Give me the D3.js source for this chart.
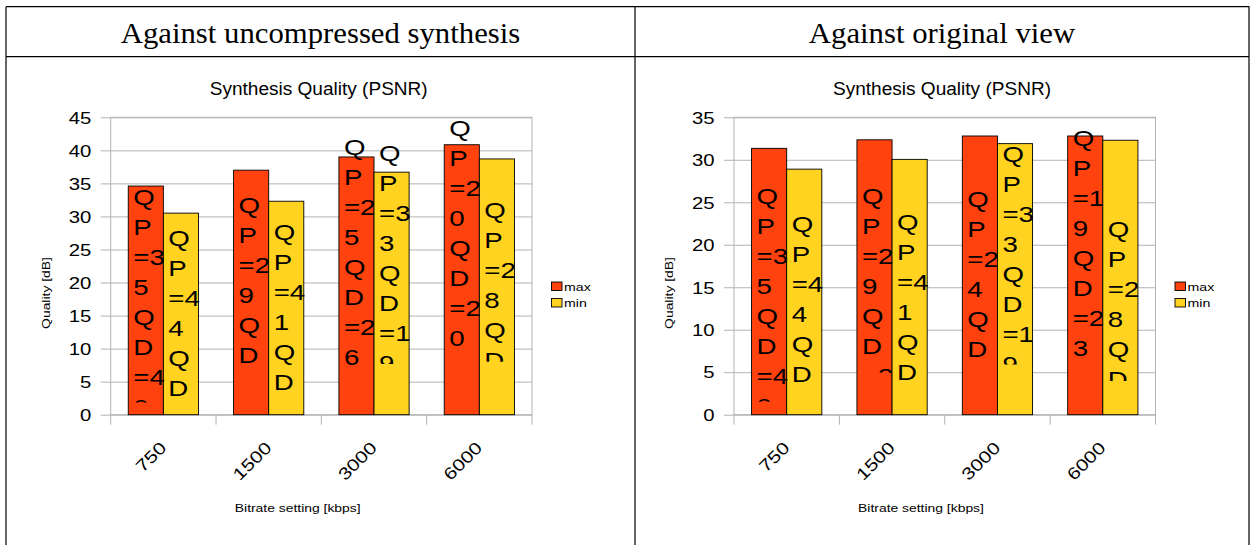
<!DOCTYPE html>
<html><head><meta charset="utf-8">
<script src="https://cdn.jsdelivr.net/npm/d3@7"></script>
<style>body{margin:0;background:#fff}svg{display:block}</style>
</head><body>
<svg id="c" width="1251" height="545"></svg>
<script>
// ---------- data ----------
const headers = ["Against uncompressed synthesis", "Against original view"];
const chartTitle = "Synthesis Quality (PSNR)";
const yTitle = "Quality [dB]";
const xTitle = "Bitrate setting [kbps]";
const categories = ["750", "1500", "3000", "6000"];
const seriesNames = ["max", "min"];
const seriesColors = ["#ff420e", "#ffd320"];

const leftTicks = [0, 5, 10, 15, 20, 25, 30, 35, 40, 45];
const leftMax = [34.6, 37.0, 39.0, 40.85];
const leftMin = [30.5, 32.3, 36.7, 38.7];
const leftMaxLabels = ["QP=35QD=40", "QP=29QD=3", "QP=25QD=26", "QP=20QD=20"];
const leftMinLabels = ["QP=44QD", "QP=41QD", "QP=33QD=19", "QP=28QD"];
const leftMaxLabelAt = [33.0, 31.73, 40.55, 43.33];   // dB of first label line
const leftMinLabelAt = [26.69, 27.69, 39.55, 30.97];
const leftMaxShown = [7.36, 6, 8, 8];                  // visible label lines
const leftMinShown = [6, 6, 7.52, 5.56];

const rightTicks = [0, 5, 10, 15, 20, 25, 30, 35];
const rightMax = [31.35, 32.35, 32.8, 32.8];
const rightMin = [28.9, 30.05, 31.9, 32.3];
const rightMaxLabels = ["QP=35QD=40", "QP=29QD=3", "QP=24QD", "QP=19QD=23"];
const rightMinLabels = ["QP=44QD", "QP=41QD", "QP=33QD=19", "QP=28QD"];
const rightMaxLabelAt = [25.75, 25.75, 25.36, 32.58];
const rightMinLabelAt = [22.43, 22.62, 30.63, 21.84];
const rightMaxShown = [7.36, 6.4, 6, 8];
const rightMinShown = [6, 6, 7.5, 5.56];

// ---------- drawing ----------
const SX = 1.23;               // horizontal glyph widening of the chart texts
const SANS = "'Liberation Sans', Arial, sans-serif";
const SERIF = "'Liberation Serif', 'Times New Roman', serif";
const svg = d3.select("#c");
const defs = svg.append("defs");

function txt(g, x, y, s, size, opt = {}) {
  const sx = opt.sx || SX;
  const t = g.append("text")
    .attr("transform", `translate(${x},${y}) rotate(${opt.rot || 0}) scale(${sx},1)`)
    .attr("font-family", opt.family || SANS)
    .attr("font-size", size)
    .attr("fill", "#000")
    .attr("text-anchor", opt.anchor || "start")
    .text(s);
  if (opt.dy) t.attr("dy", opt.dy);
  return t;
}

// table
svg.append("path")
  .attr("d", "M6,6.7H1249.5 M6,56.7H1249.5 M6,6.7V545 M635,6.7V545 M1249,6.7V545")
  .attr("stroke", "#000").attr("stroke-width", 1.2).attr("fill", "none");
txt(svg, 320.5, 42.5, headers[0], 29, {family: SERIF, anchor: "middle", sx: 1.06});
txt(svg, 942, 42.5, headers[1], 29, {family: SERIF, anchor: "middle", sx: 1.06});

const ctx = document.createElement("canvas").getContext("2d");
const LABEL_SIZE = 22.5, LINE_H = 30;
ctx.font = `${LABEL_SIZE}px 'Liberation Sans', Arial, sans-serif`;
function wrap(s, maxW) {
  const lines = [];
  let cur = "";
  for (const ch of s) {
    const test = cur + ch;
    if (cur && ctx.measureText(test).width * SX > maxW) { lines.push(cur); cur = ch; }
    else cur = test;
  }
  if (cur) lines.push(cur);
  return lines;
}

let clipId = 0;
function drawChart(cfg) {
  const g = svg.append("g");
  const yTop = 117.3, yBot = 414.7;
  const x = d3.scaleBand().domain(categories).range([cfg.x0, cfg.x1]).padding(0);
  const xs = d3.scaleBand().domain(seriesNames).range([0, x.bandwidth()])
    .paddingInner(0).paddingOuter(0.5);
  const y = d3.scaleLinear().domain([0, d3.max(cfg.ticks)]).range([yBot, yTop]);

  // title
  txt(g, cfg.x0 + 208, 94.5, chartTitle, 18.5, {anchor: "middle", sx: 1.03});

  // grid + y axis
  const ax = g.append("g").attr("transform", `translate(${cfg.x0},0)`)
    .call(d3.axisLeft(y).tickValues(cfg.ticks).tickSizeInner(-(cfg.x1 - cfg.x0))
      .tickSizeOuter(0).tickPadding(19.5));
  ax.select(".domain").remove();
  ax.selectAll(".tick line").attr("x1", -10).attr("stroke", "#b3b3b3");
  ax.selectAll(".tick text")
    .attr("x", 0).attr("dy", "0.35em")
    .attr("transform", `translate(-19.5,0) scale(${SX},1)`)
    .attr("font-family", SANS).attr("font-size", 16.5).attr("fill", "#000");

  // plot frame and category ticks
  g.append("rect").attr("x", cfg.x0).attr("y", yTop)
    .attr("width", cfg.x1 - cfg.x0).attr("height", yBot - yTop)
    .attr("fill", "none").attr("stroke", "#b3b3b3");
  const edges = categories.map(c => x(c)).concat([cfg.x1]);
  g.selectAll(".ctick").data(edges).join("line")
    .attr("x1", d => d).attr("x2", d => d)
    .attr("y1", yBot).attr("y2", yBot + 10)
    .attr("stroke", "#b3b3b3");

  // bars
  const series = [cfg.max, cfg.min];
  series.forEach((vals, si) => {
    g.selectAll(".bar" + si).data(vals).join("rect")
      .attr("x", (d, i) => x(categories[i]) + xs(seriesNames[si]))
      .attr("y", d => y(d))
      .attr("width", xs.bandwidth())
      .attr("height", d => y(0) - y(d))
      .attr("fill", seriesColors[si])
      .attr("stroke", "#000").attr("stroke-width", 0.9);
  });

  // data labels
  const labelSets = [
    {txt: cfg.maxLabels, at: cfg.maxAt, shown: cfg.maxShown},
    {txt: cfg.minLabels, at: cfg.minAt, shown: cfg.minShown}
  ];
  labelSets.forEach((ls, si) => {
    ls.txt.forEach((s, i) => {
      const bx = x(categories[i]) + xs(seriesNames[si]);
      const lines = wrap(s, xs.bandwidth() - 1);
      const c = y(ls.at[i]);
      const lg = g.append("g");
      if (ls.shown[i] < lines.length) {
        const id = "clip" + (clipId++);
        defs.append("clipPath").attr("id", id).append("rect")
          .attr("x", bx - 10).attr("y", 0)
          .attr("width", xs.bandwidth() + 40)
          .attr("height", c - LINE_H / 2 + ls.shown[i] * LINE_H);
        lg.attr("clip-path", `url(#${id})`);
      }
      lines.forEach((ln, k) => {
        txt(lg, bx + 5, c + 8 + k * LINE_H, ln, LABEL_SIZE);
      });
    });
  });

  // x tick labels
  categories.forEach(cat => {
    txt(g, x(cat) + x.bandwidth() / 2 + 4, yBot + 34, cat, 17, {anchor: "end", rot: -45});
  });

  // axis titles
  txt(g, cfg.x0 + 187, 511.5, xTitle, 11.3, {anchor: "middle"});
  txt(g, cfg.x0 - 65, 293, yTitle, 11.3, {anchor: "middle", rot: -90, dy: "0.35em"});

  // legend
  seriesNames.forEach((nm, si) => {
    const ly = 282 + si * 16.5;
    g.append("rect").attr("x", cfg.x1 + 19.5).attr("y", ly)
      .attr("width", 10.5).attr("height", 8.5)
      .attr("fill", seriesColors[si]).attr("stroke", "#000").attr("stroke-width", 0.9);
    txt(g, cfg.x1 + 32, ly + 8.7, nm, 11.5);
  });
}

drawChart({x0: 110.7, x1: 532, ticks: leftTicks, max: leftMax, min: leftMin,
  maxLabels: leftMaxLabels, minLabels: leftMinLabels,
  maxAt: leftMaxLabelAt, minAt: leftMinLabelAt,
  maxShown: leftMaxShown, minShown: leftMinShown});
drawChart({x0: 734, x1: 1155.5, ticks: rightTicks, max: rightMax, min: rightMin,
  maxLabels: rightMaxLabels, minLabels: rightMinLabels,
  maxAt: rightMaxLabelAt, minAt: rightMinLabelAt,
  maxShown: rightMaxShown, minShown: rightMinShown});
</script>
</body></html>
